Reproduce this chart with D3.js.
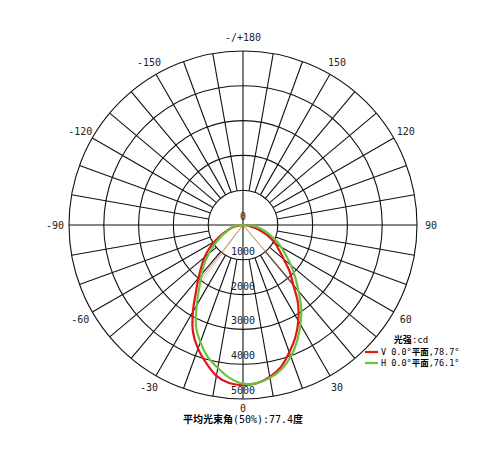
<!DOCTYPE html>
<html><head><meta charset="utf-8">
<script src="https://cdn.jsdelivr.net/npm/d3@7"></script>
<style>
html,body{margin:0;padding:0;background:#fff;}
text{font-family:"DejaVu Sans Mono","Noto Sans CJK SC",monospace;}
.cjk{font-weight:bold;}
</style></head>
<body><svg id="c" width="481" height="451"></svg>
<script>
const angles = [-90,-85,-80,-75,-70,-65,-60,-55,-50,-45,-40,-35,-30,-25,-20,-15,-10,-5,0,5,10,15,20,25,30,35,40,45,50,55,60,65,70,75,80,85,90];
const vValues = [0,100,220,360,500,700,930,1190,1440,1690,1990,2360,2880,3400,3780,4100,4400,4560,4600,4560,4430,4220,3890,3560,3180,2760,2250,1900,1530,1270,1080,860,630,400,220,80,0];
const hValues = [0,220,320,390,455,620,800,1030,1280,1570,1850,2190,2660,3200,3580,3920,4170,4410,4560,4560,4460,4290,4020,3680,3300,2920,2480,2120,1800,1500,1260,1040,820,640,480,300,0];
const ringValues = [1000,2000,3000,4000,5000];
const ringLabels = ["0","1000","2000","3000","4000","5000"];
const angleTicks = [-150,-120,-90,-60,-30,0,30,60,90,120,150,180];
const angleTickLabels = ["-150","-120","-90","-60","-30","0","30","60","90","120","150","-/+180"];
const beamV = [-38.2, 40.5];
const beamH = [-36.3, 39.8];
const seriesNames = ["V 0.0°平面,78.7°","H 0.0°平面,76.1°"];
const titleParts = ["平均光束角","(50%):77.4","度"];

const cx = 243, cy = 225;
const svg = d3.select("#c");
const r = d3.scaleLinear().domain([0,5000]).range([0,174]);
const rad = d => d*Math.PI/180;
const px = (a,v) => cx + r(v)*Math.sin(rad(a));
const py = (a,v) => cy + r(v)*Math.cos(rad(a));

const g = svg.append("g");
// rings
g.selectAll("circle.ring").data(ringValues).join("circle")
  .attr("cx",cx).attr("cy",cy).attr("r",d=>r(d))
  .attr("fill","none").attr("stroke","#111").attr("stroke-width",1.1);
// radial lines
const spokes = d3.range(-180,180,10);
g.selectAll("line.spoke").data(spokes).join("line")
  .attr("x1",d=> d%90===0 ? cx : px(d,1000))
  .attr("y1",d=> d%90===0 ? cy : py(d,1000))
  .attr("x2",d=>px(d,5000)).attr("y2",d=>py(d,5000))
  .attr("stroke","#111").attr("stroke-width",1.1);

// ring labels
g.selectAll("text.rl").data(ringLabels).join("text")
  .attr("x",cx).attr("y",(d,i)=>cy + r(i*1000) - 5)
  .attr("text-anchor","middle").attr("font-size",10).attr("fill","#222")
  .text(d=>d);

// angle labels
g.selectAll("text.al").data(angleTicks).join("text")
  .attr("x",d=>cx + 188*Math.sin(rad(d)))
  .attr("y",d=>cy + (d===0 ? 183 : 188)*Math.cos(rad(d)))
  .attr("text-anchor","middle").attr("dominant-baseline","central")
  .attr("font-size",10).attr("fill","#222")
  .text((d,i)=>angleTickLabels[i]);

// curves
const line = d3.lineRadial()
  .angle(d=>Math.PI - rad(d[0]))
  .radius(d=>r(d[1]))
  .curve(d3.curveCatmullRom.alpha(0.5));
const series = [
  {vals:vValues, color:"#e3141c", beam:beamV},
  {vals:hValues, color:"#6cc23c", beam:beamH}
];
series.forEach(s=>{
  const interp = d3.scaleLinear().domain(angles).range(s.vals);
  s.beam.forEach(a=>{
    g.append("line").attr("x1",cx).attr("y1",cy)
      .attr("x2",px(a,interp(a))).attr("y2",py(a,interp(a)))
      .attr("stroke",s.color).attr("stroke-width",0.9).attr("opacity",0.6);
  });
});
series.forEach(s=>{
  g.append("path")
    .attr("transform",`translate(${cx},${cy})`)
    .attr("d",line(angles.map((a,i)=>[a,s.vals[i]])))
    .attr("fill","none").attr("stroke",s.color).attr("stroke-width",2.2);
});

// legend
svg.append("text").attr("x",411).attr("y",343).attr("text-anchor","middle")
  .attr("font-size",9)
  .call(t=>{t.append("tspan").attr("class","cjk").text("光强");
            t.append("tspan").text(":cd");});
seriesNames.forEach((n,i)=>{
  const y = 352 + i*11;
  svg.append("line").attr("x1",365).attr("x2",378).attr("y1",y).attr("y2",y)
    .attr("stroke",series[i].color).attr("stroke-width",2.2);
  const t = svg.append("text").attr("x",381).attr("y",y+3).attr("font-size",8.5);
  const parts = n.split(/(平面)/);
  parts.forEach(p=>{ const ts=t.append("tspan").text(p); if(p==="平面") ts.attr("class","cjk"); });
});

// title
const tt = svg.append("text").attr("x",243).attr("y",423).attr("text-anchor","middle").attr("font-size",10);
tt.append("tspan").attr("class","cjk").text(titleParts[0]);
tt.append("tspan").text(titleParts[1]);
tt.append("tspan").attr("class","cjk").text(titleParts[2]);
</script></body></html>
